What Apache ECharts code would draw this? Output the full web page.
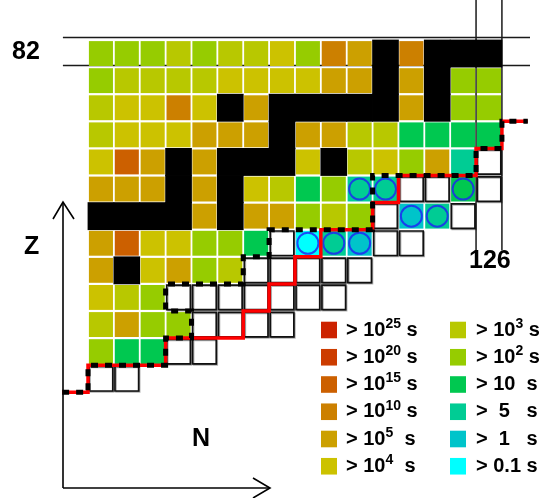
<!DOCTYPE html>
<html lang="en">
<head>
<meta charset="utf-8">
<title>Half-lives around Z=82, N=126</title>
<script src="https://cdn.jsdelivr.net/npm/echarts@6/dist/echarts.min.js"></script>
<style>
  html, body { margin: 0; background: #fff; }
  #chart { width: 543px; height: 498px; }
</style>
</head>
<body>
<div id="chart"></div>
<script>
// first column of the chart is N=111, rows run from Z=82 down to Z=70
var FIRST_N = 111;
var zValues = [82, 81, 80, 79, 78, 77, 76, 75, 74, 73, 72, 71, 70];

// half-life classes (legend order)
var classKeys = ['e25', 'e20', 'e15', 'e10', 'e5', 'e4', 'e3', 'e2', 's10', 's5', 's1', 's01'];
var classColors = ['#cc2200', '#cc3c00', '#cc6000', '#cc8000', '#cca000', '#ccc200',
                   '#b8c800', '#96cc00', '#00c850', '#00cc94', '#00c4ca', '#00ffff'];
var legendLabels = ['> 10{sup|25} s', '> 10{sup|20} s', '> 10{sup|15} s', '> 10{sup|10} s',
                    '> 10{sup|5}  s', '> 10{sup|4}  s', '> 10{sup|3} s', '> 10{sup|2} s',
                    '> 10  s', '>  5   s', '>  1   s', '> 0.1 s'];

// B = black cell, W = empty (unmeasured) box
var rows = [
  ['e2', 'e2', 'e2', 'e3', 'e2', 'e3', 'e3', 'e4', 'e2', 'e10', 'e5', 'B', 'e10', 'B', 'B', 'B'],
  ['e2', 'e3', 'e3', 'e3', 'e3', 'e4', 'e4', 'e4', 'e4', 'e5', 'e5', 'B', 'e5', 'B', 'e2', 'e2'],
  ['e3', 'e4', 'e4', 'e10', 'e4', 'B', 'e5', 'B', 'B', 'B', 'B', 'B', 'e5', 'B', 'e2', 'e2'],
  ['e3', 'e4', 'e4', 'e4', 'e5', 'e5', 'e5', 'B', 'e5', 'e5', 'e3', 'e3', 's10', 's10', 's10', 's10'],
  ['e4', 'e15', 'e5', 'B', 'e5', 'B', 'B', 'B', 'e4', 'B', 'e3', 'e4', 'e2', 'e5', 's5', 'W'],
  ['e5', 'e5', 'e5', 'B', 'e5', 'B', 'e4', 'e3', 's10', 'e2', 's5', 's5', 'W', 'W', 's10', 'W'],
  ['B', 'B', 'B', 'B', 'e5', 'B', 'e5', 'e5', 'e2', 'e3', 'e2', 'W', 's1', 's5', 'W'],
  ['e5', 'e15', 'e4', 'e4', 'e2', 'e2', 's10', 'W', 's01', 's5', 's1', 'W', 'W'],
  ['e5', 'B', 'e4', 'e5', 'e2', 'e3', 'W', 'W', 'W', 'W', 'W'],
  ['e4', 'e3', 'e2', 'W', 'W', 'W', 'W', 'W', 'W', 'W'],
  ['e3', 'e5', 'e2', 'e2', 'W', 'W', 'W', 'W'],
  ['e2', 's10', 's10', 'W', 'W'],
  ['W', 'W']
];

// nuclides marked with a blue ring
var circled = [[121, 77], [122, 77], [125, 77], [123, 76], [124, 76], [119, 75], [120, 75], [121, 75]];

// boundaries, in cell-edge coordinates (N, Z)
var redPath = [[109.5, 69.5], [110.5, 69.5], [110.5, 70.5], [113.5, 70.5], [113.5, 71.5], [116.5, 71.5],
  [116.5, 72.5], [117.5, 72.5], [117.5, 73.5], [118.5, 73.5], [118.5, 74.5], [119.5, 74.5], [119.5, 75.5],
  [121.5, 75.5], [121.5, 76.5], [122.5, 76.5], [122.5, 77.5], [125.5, 77.5], [125.5, 78.5], [126.5, 78.5],
  [126.5, 79.5], [127.5, 79.5]];
var measuredPath = [[109.5, 69.5], [110.5, 69.5], [110.5, 70.5], [113.5, 70.5], [113.5, 71.5], [114.5, 71.5],
  [114.5, 72.5], [113.5, 72.5], [113.5, 73.5], [116.5, 73.5], [116.5, 74.5], [117.5, 74.5], [117.5, 75.5],
  [121.5, 75.5], [121.5, 77.5], [125.5, 77.5], [125.5, 78.5], [126.5, 78.5], [126.5, 79.5], [127.5, 79.5]];

// magic number guide lines
var z82Lines = [82.59, 81.56];
var n126Lines = [125.5, 126.5];

var cells = [];
rows.forEach(function (row, j) {
  row.forEach(function (code, i) {
    var kind = code === 'B' ? -1 : (code === 'W' ? -2 : classKeys.indexOf(code));
    cells.push([FIRST_N + i, zValues[j], kind]);
  });
});

function renderCell(params, api) {
  var n = api.value(0), z = api.value(1), k = api.value(2);
  var a = api.coord([n - 0.5, z + 0.5]);
  var b = api.coord([n + 0.5, z - 0.5]);
  var w = b[0] - a[0], h = b[1] - a[1];
  if (k === -1) {
    return { type: 'rect', shape: { x: a[0] - 0.4, y: a[1] - 0.4, width: w + 0.8, height: h + 0.8 },
             style: { fill: '#000' } };
  }
  if (k === -2) {
    return { type: 'rect', shape: { x: a[0] + 1.1, y: a[1] + 1.3, width: w - 2.2, height: h - 2.6 },
             style: { fill: '#fff', stroke: '#111', lineWidth: 1.7,
                      shadowColor: 'rgba(0,0,0,0.3)', shadowOffsetX: 1, shadowOffsetY: 1 } };
  }
  return { type: 'rect', shape: { x: a[0] + 0.9, y: a[1] + 1.1, width: w - 1.8, height: h - 2.2 },
           style: { fill: classColors[k] } };
}

var FONT = '"Liberation Sans", Arial, sans-serif';

function guide(data) {
  return { type: 'line', data: data, symbol: 'none', clip: false, silent: true, z: 1,
           lineStyle: { color: '#1a1a1a', width: 1.5 } };
}

var series = [];
z82Lines.forEach(function (z) { series.push(guide([[109.53, z], [127.6, z]])); });
n126Lines.forEach(function (n) { series.push(guide([[n, 83.98], [n, 74.75]])); });
series.push({ type: 'custom', renderItem: renderCell, data: cells, encode: { x: 0, y: 1 }, z: 2, silent: true });
series.push({ type: 'scatter', data: circled, symbol: 'circle', symbolSize: 21, z: 3, silent: true,
              itemStyle: { color: 'rgba(0,0,0,0)', borderColor: '#1f1ff5', borderWidth: 2 } });
series.push({ type: 'line', data: redPath, symbol: 'none', clip: false, silent: true, z: 4,
              lineStyle: { color: '#ff0000', width: 3.5, join: 'miter' } });
series.push({ type: 'line', data: measuredPath, symbol: 'none', clip: false, silent: true, z: 5,
              lineStyle: { color: '#000', width: 5, type: [7, 7], cap: 'butt', join: 'miter' } });

// legend, two columns of six
var graphic = [];
legendLabels.forEach(function (label, k) {
  var col = Math.floor(k / 6), r = k % 6;
  var cy = 330 + r * 27.25;
  graphic.push({ type: 'rect', shape: { x: col ? 450 : 321, y: cy - 8.3, width: 16, height: 16.6 },
                 style: { fill: classColors[k] } });
  graphic.push({ type: 'text', x: col ? 476 : 346, y: cy,
                 style: { text: label, fontSize: 20, fontWeight: 'bold', fontFamily: FONT, fill: '#000',
                          verticalAlign: 'middle', lineHeight: 26,
                          rich: { sup: { fontSize: 14, fontWeight: 'bold', fontFamily: FONT, lineHeight: 14,
                                         verticalAlign: 'top', fill: '#000' } } } });
});

function label(text, x, y) {
  return { type: 'text', x: x, y: y,
           style: { text: text, fontSize: 25, fontWeight: 'bold', fontFamily: FONT, fill: '#000',
                    verticalAlign: 'middle' } };
}
graphic.push(label('82', 12, 52));
graphic.push(label('126', 469, 261));
graphic.push(label('Z', 24, 247));
graphic.push(label('N', 192, 439));

// Z and N arrows
var axisStyle = { stroke: '#000', lineWidth: 1.6, fill: null };
graphic.push({ type: 'polyline', shape: { points: [[63, 488], [63, 202]] }, style: axisStyle });
graphic.push({ type: 'polyline', shape: { points: [[53, 219], [63, 202], [74, 219]] }, style: axisStyle });
graphic.push({ type: 'polyline', shape: { points: [[63, 488], [270, 488]] }, style: axisStyle });
graphic.push({ type: 'polyline', shape: { points: [[253, 478], [270, 488], [253, 498]] }, style: axisStyle });

var chart = echarts.init(document.getElementById('chart'));
chart.setOption({
  animation: false,
  // one spare column on the left so the boundary lines can reach the Z arrow
  grid: { left: 88 - 25.87, top: 40, width: 25.87 * 18, height: 27.1 * 13 },
  xAxis: { type: 'value', min: 109.5, max: 127.5, show: false },
  yAxis: { type: 'value', min: 69.5, max: 82.5, show: false },
  series: series,
  graphic: graphic
});
</script>
</body>
</html>
